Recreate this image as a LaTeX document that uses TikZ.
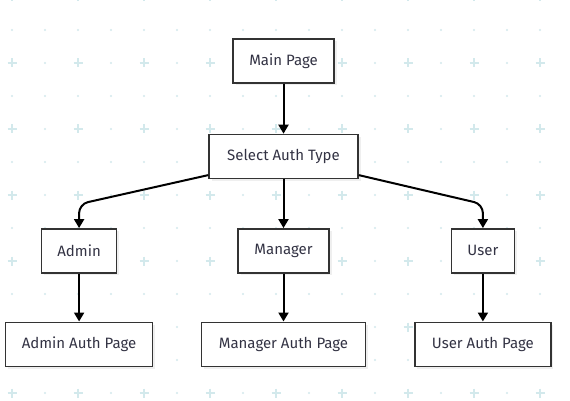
\documentclass[tikz,border=0pt]{standalone}
\usepackage{fontspec}
\setmainfont{Fira Sans}
\usetikzlibrary{arrows.meta,positioning,shadows}

\definecolor{gridcol}{HTML}{D3E9EC}
\definecolor{boxline}{HTML}{333333}
\definecolor{boxtext}{HTML}{333344}

\tikzset{
  pagebox/.style={draw=boxline,line width=1.4pt,fill=white,minimum height=44pt,
    text=boxtext,font=\fontsize{15pt}{18pt}\selectfont,
    drop shadow={opacity=0.12,shadow xshift=2.5pt,shadow yshift=-2.5pt}},
  arr/.style={-{Triangle[length=9pt,width=10pt]},line width=2pt,black},
}

\begin{document}
\begin{tikzpicture}[x=1pt,y=-1pt,node distance=48pt]
	\useasboundingbox (0,0) rectangle (570,401);
	\fill[white] (0,0) rectangle (570,401);
	% background grid
	\foreach \i in {0,...,17}
		\foreach \j in {0,...,12} {
			\pgfmathtruncatemacro{\ev}{mod(\i,2)+mod(\j,2)}
			\ifnum\ev=0
				\draw[gridcol,line width=1.2pt] (12+33*\i-4.5,-3+33*\j) -- +(9,0)
					(12+33*\i,-3+33*\j-4.5) -- +(0,9);
			\else
				\fill[gridcol] (12+33*\i,-3+33*\j) circle (1.1pt);
			\fi
		}
	% nodes
	\node[pagebox,minimum width=101pt] (main) at (283.5,61) {Main Page};
	\node[pagebox,minimum width=149pt] [below=50pt of main] (sel) {Select Auth Type};
	\node[pagebox,minimum width=91pt] [below=49pt of sel] (mgr) {Manager};
	\node[pagebox,minimum width=75pt] [left=120pt of mgr] (admin) {Admin};
	\node[pagebox,minimum width=63pt] [right=121pt of mgr] (user) {User};
	\node[pagebox,minimum width=147pt] [below=of admin] (adminpg) {Admin Auth Page};
	\node[pagebox,minimum width=164pt] [below=of mgr] (mgrpg) {Manager Auth Page};
	\node[pagebox,minimum width=136pt] [below=of user] (userpg) {User Auth Page};
	% connectors
	\draw[arr] (main) -- (sel);
	\draw[arr] (sel) -- (mgr);
	\draw[arr,rounded corners=9pt] ([yshift=4pt]sel.south west) -- ([yshift=24pt]admin.north) -- (admin.north);
	\draw[arr,rounded corners=9pt] ([yshift=4pt]sel.south east) -- ([yshift=24pt]user.north) -- (user.north);
	\draw[arr] (admin) -- (adminpg);
	\draw[arr] (mgr) -- (mgrpg);
	\draw[arr] (user) -- (userpg);
\end{tikzpicture}
\end{document}
